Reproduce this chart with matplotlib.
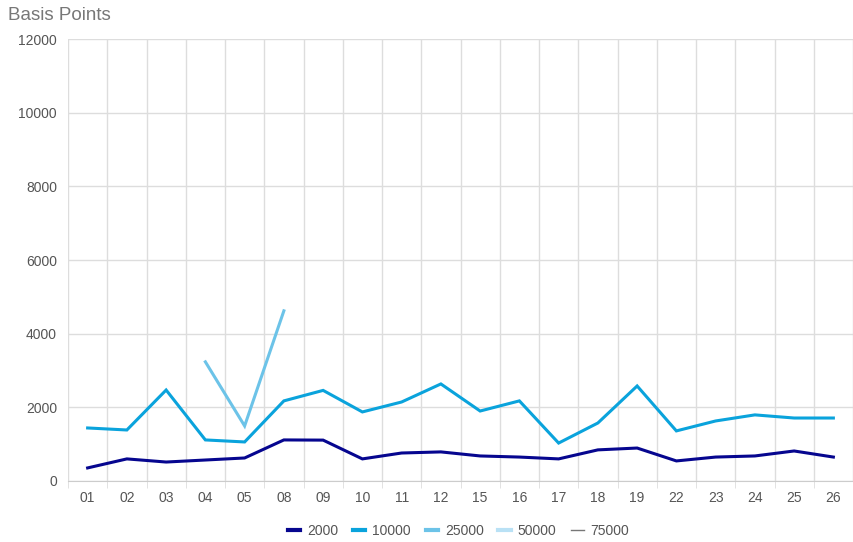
import numpy as np
import matplotlib.pyplot as plt

categories = ["01", "02", "03", "04", "05", "08", "09", "10", "11", "12",
              "15", "16", "17", "18", "19", "22", "23", "24", "25", "26"]

s2000 = [355, 600, 515, 570, 625, 1115, 1110, 600, 760, 790,
         680, 650, 600, 845, 895, 545, 650, 680, 815, 650]
s10000 = [1440, 1385, 2470, 1115, 1060, 2175, 2460, 1875, 2145, 2635,
          1900, 2175, 1030, 1575, 2580, 1360, 1630, 1795, 1710, 1710]
s25000 = [None, None, None, 3235, 1495, 4620, None, None, None, None,
          None, None, None, None, None, None, None, None, None, None]
s50000 = [None] * len(categories)
s75000 = [None] * len(categories)

series_names = ["2000", "10000", "25000", "50000", "75000"]
colors = ["#06068f", "#0aa3dc", "#6cc3e8", "#b9e1f5", "#777777"]
widths = [2.2, 2.2, 2.2, 2.2, 1.0]

plt.rcParams['font.family'] = ['Liberation Sans', 'DejaVu Sans']


def to_arr(vals):
    return np.array([np.nan if v is None else v for v in vals], dtype=float)


def main():
    fig = plt.figure(figsize=(8.54, 5.42), dpi=100)
    ax = fig.add_axes([68 / 854, 1 - 481 / 542, 785 / 854, 442 / 542])
    x = np.arange(len(categories))
    data = [s2000, s10000, s25000, s50000, s75000]
    for name, vals, c, w in zip(series_names, data, colors, widths):
        ax.plot(x, to_arr(vals), color=c, linewidth=w, label=name,
                solid_joinstyle="miter")

    ax.set_xlim(-0.5, len(categories) - 0.5)
    ax.set_ylim(0, 12000)
    ax.set_yticks(np.arange(0, 12001, 2000))
    ax.set_xticks(x)
    ax.set_xticklabels(categories)
    ax.set_xticks(np.arange(-0.5, len(categories), 1), minor=True)
    ax.grid(True, which="minor", axis="x", color="#dddddd", linewidth=1)
    ax.grid(True, which="major", axis="y", color="#dddddd", linewidth=1)
    ax.tick_params(axis="x", which="major", length=0, pad=7,
                   labelsize=10, labelcolor="#555555")
    ax.tick_params(axis="x", which="minor", length=5, color="#dddddd")
    ax.tick_params(axis="y", length=0, pad=8, labelsize=10,
                   labelcolor="#555555")
    for side in ["top", "right", "left"]:
        ax.spines[side].set_visible(False)
    ax.spines["bottom"].set_color("#cccccc")
    ax.set_axisbelow(True)

    fig.text(8 / 854, 1 - 15 / 542, "Basis Points", fontsize=13.5,
             color="#777777", va="center", ha="left")

    leg = fig.legend(loc="center", bbox_to_anchor=(0.537, 1 - 531 / 542),
                     ncol=5, frameon=False, fontsize=10, handlelength=0.9,
                     columnspacing=1.05, handletextpad=0.5,
                     labelcolor="#555555")
    for line, w in zip(leg.get_lines(), widths):
        line.set_linewidth(3.0 if w > 1.5 else 1.0)
    fig.savefig("out.png", dpi=100)


if __name__ == "__main__":
    main()
